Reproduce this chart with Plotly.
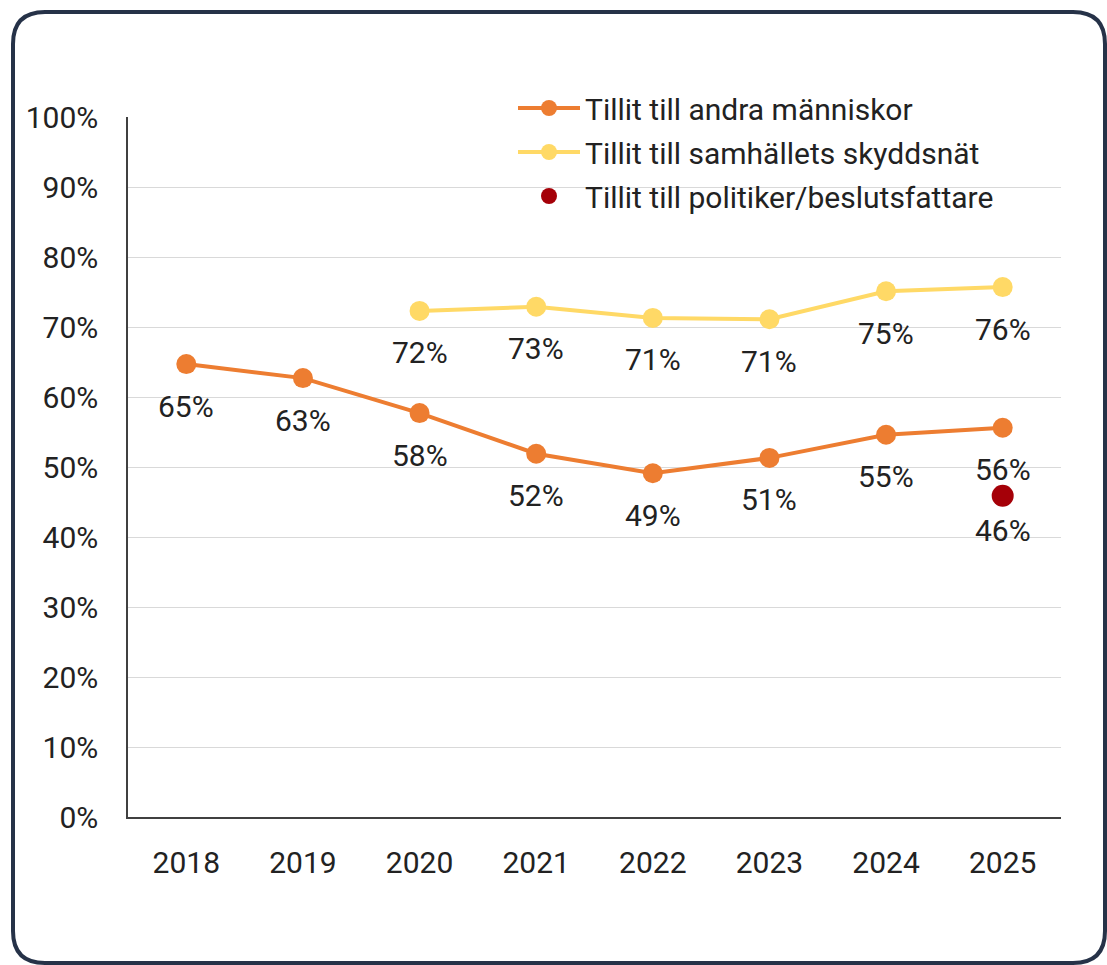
import plotly.graph_objects as go

years = ["2018", "2019", "2020", "2021", "2022", "2023", "2024", "2025"]
andra = [64.7, 62.7, 57.7, 51.9, 49.1, 51.3, 54.6, 55.6]
skydd_years = ["2020", "2021", "2022", "2023", "2024", "2025"]
skydd = [72.3, 72.9, 71.3, 71.1, 75.1, 75.7]
pol_years = ["2025"]
pol = [45.9]

andra_labels = ["65%", "63%", "58%", "52%", "49%", "51%", "55%", "56%"]
skydd_labels = ["72%", "73%", "71%", "71%", "75%", "76%"]
pol_labels = ["46%"]

names = ["Tillit till andra människor", "Tillit till samhällets skyddsnät",
         "Tillit till politiker/beslutsfattare"]
c_orange = "#ED7D31"
c_yellow = "#FFD966"
c_red = "#A50008"

W, H = 1107, 965
ML, MR, MT, MB = 128, 46, 117, 148
PW, PH = W - ML - MR, H - MT - MB
FS = 30

fig = go.Figure()
fig.add_trace(go.Scatter(x=years, y=andra, name=names[0], mode="lines+markers",
                         line=dict(color=c_orange, width=4),
                         marker=dict(size=20, color=c_orange),
                         legendgroup="a", cliponaxis=False))
fig.add_trace(go.Scatter(x=skydd_years, y=skydd, name=names[1], mode="lines+markers",
                         line=dict(color=c_yellow, width=4),
                         marker=dict(size=20, color=c_yellow),
                         legendgroup="b", cliponaxis=False))
fig.add_trace(go.Scatter(x=pol_years, y=pol, name=names[2], mode="markers",
                         marker=dict(size=22, color=c_red),
                         legendgroup="c", cliponaxis=False))

annos = []
for xs, ys, labs, sh in [(years, andra, andra_labels, -42),
                         (skydd_years, skydd, skydd_labels, -42),
                         (pol_years, pol, pol_labels, -35)]:
    for x, y, t in zip(xs, ys, labs):
        annos.append(dict(x=years.index(x), y=y, xref="x", yref="y", text=t,
                          showarrow=False, yshift=sh,
                          font=dict(family="Roboto", size=FS, color="#222222")))


def px(x):
    return (x - ML) / PW


def py(y):
    return (H - MB - y) / PH


# rounded frame around the whole chart
x0, x1, y0, y1, r = 13, 1105, 12, 963, 32
path = (f"M {px(x0 + r)},{py(y0)} L {px(x1 - r)},{py(y0)} "
        f"Q {px(x1)},{py(y0)} {px(x1)},{py(y0 + r)} "
        f"L {px(x1)},{py(y1 - r)} Q {px(x1)},{py(y1)} {px(x1 - r)},{py(y1)} "
        f"L {px(x0 + r)},{py(y1)} Q {px(x0)},{py(y1)} {px(x0)},{py(y1 - r)} "
        f"L {px(x0)},{py(y0 + r)} Q {px(x0)},{py(y0)} {px(x0 + r)},{py(y0)} Z")

fig.update_layout(
    width=W, height=H,
    margin=dict(l=ML, r=MR, t=MT, b=MB),
    paper_bgcolor="white", plot_bgcolor="white",
    font=dict(family="Roboto", size=FS, color="#222222"),
    showlegend=True,
    legend=dict(x=px(513), y=py(82), xanchor="left", yanchor="top",
                bgcolor="rgba(0,0,0,0)", tracegroupgap=2, itemwidth=62,
                font=dict(family="Roboto", size=FS, color="#222222")),
    annotations=annos,
    shapes=[dict(type="path", path=path, xref="paper", yref="paper",
                 fillcolor="rgba(0,0,0,0)",
                 line=dict(color="#263248", width=4), layer="below")],
    xaxis=dict(type="category", range=[-0.5, 7.5], showgrid=False,
               showline=True, linecolor="#404040", linewidth=1.5,
               ticks="", ticklabelstandoff=18, fixedrange=True),
    yaxis=dict(range=[0, 100], dtick=10, ticksuffix="%", showgrid=True,
               gridcolor="#D9D9D9", gridwidth=1, zeroline=False,
               showline=True, linecolor="#404040", linewidth=1.5,
               ticks="", ticklabelstandoff=22, fixedrange=True),
)

fig.write_html("out.html", config={"displayModeBar": False},
               post_script="document.body.style.margin='0';")
